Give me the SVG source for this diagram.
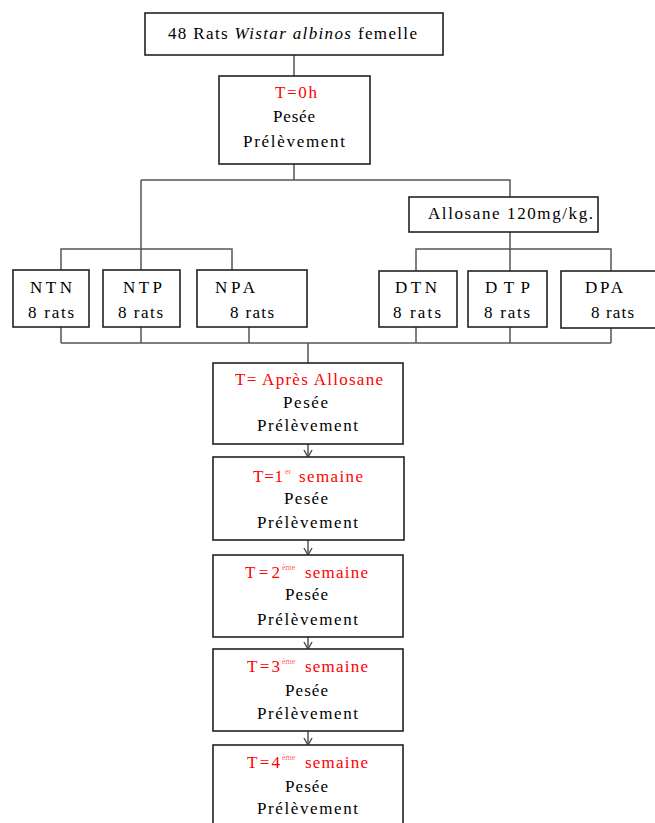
<svg xmlns="http://www.w3.org/2000/svg" width="655" height="823" viewBox="0 0 655 823">
<style>
.box{fill:#fff;stroke:#222;stroke-width:1.6}
.con{fill:none;stroke:#555;stroke-width:1.5}
text{font-family:"Liberation Serif","Times New Roman",serif;font-size:17px;fill:#000;text-anchor:start}
.r{fill:#f00}
.sup{font-size:8px;fill:#f66}
</style>
<defs>
<marker id="v" viewBox="0 0 10 10" refX="9" refY="5" markerWidth="10" markerHeight="10" markerUnits="userSpaceOnUse" orient="auto">
<path d="M2,1 L9,5 L2,9" fill="none" stroke="#555" stroke-width="1.5"/>
</marker>
</defs>
<rect width="655" height="823" fill="#fff"/>
<g id="connectors">
<path class="con" d="M294,55 V76"/>
<path class="con" d="M294,164 V180 M141,180 H510 V197"/>
<path class="con" d="M141,180 V270 M61,270 V249 H232 V270"/>
<path class="con" d="M510,232 V271 M416,271 V249 H611 V271"/>
<path class="con" d="M61,327 V343 M141,327 V343 M249,327 V343 M416,327 V343 M510,327 V343 M611,328 V343 M61,343 H611"/>
<path class="con" d="M308,343 V363"/>
<path class="con" d="M308,444 V457" marker-end="url(#v)"/>
<path class="con" d="M308,540 V555" marker-end="url(#v)"/>
<path class="con" d="M308,637 V649" marker-end="url(#v)"/>
<path class="con" d="M308,731 V745" marker-end="url(#v)"/>
</g>
<g id="top">
<rect class="box" x="145" y="13" width="298" height="42"/>
<text x="168" y="39" textLength="249" lengthAdjust="spacing">48 Rats <tspan font-style="italic">Wistar albinos</tspan> femelle</text>
</g>
<g id="t0">
<rect class="box" x="219" y="76" width="151" height="88"/>
<text class="r" x="275" y="98" textLength="42" lengthAdjust="spacing">T=0h</text>
<text x="273" y="122" textLength="42" lengthAdjust="spacing">Pesée</text>
<text x="243" y="147" textLength="102" lengthAdjust="spacing">Prélèvement</text>
</g>
<g id="allosane">
<rect class="box" x="409" y="197" width="189" height="35"/>
<text x="428" y="219" textLength="165" lengthAdjust="spacing">Allosane 120mg/kg.</text>
</g>
<g id="ntn">
<rect class="box" x="13" y="270" width="76" height="57"/>
<text x="30" y="293" textLength="42" lengthAdjust="spacing">NTN</text>
<text x="28" y="318" textLength="46" lengthAdjust="spacing">8 rats</text>
</g>
<g id="ntp">
<rect class="box" x="103" y="270" width="77" height="57"/>
<text x="123" y="293" textLength="39" lengthAdjust="spacing">NTP</text>
<text x="118" y="318" textLength="45" lengthAdjust="spacing">8 rats</text>
</g>
<g id="npa">
<rect class="box" x="197" y="270" width="110" height="57"/>
<text x="215" y="293" textLength="40" lengthAdjust="spacing">NPA</text>
<text x="230" y="318" textLength="44" lengthAdjust="spacing">8 rats</text>
</g>
<g id="dtn">
<rect class="box" x="379" y="271" width="78" height="56"/>
<text x="395" y="293" textLength="42" lengthAdjust="spacing">DTN</text>
<text x="393" y="318" textLength="48" lengthAdjust="spacing">8 rats</text>
</g>
<g id="dtp">
<rect class="box" x="468" y="271" width="79" height="56"/>
<text x="485" y="293" textLength="45" lengthAdjust="spacing">DTP</text>
<text x="484" y="318" textLength="46" lengthAdjust="spacing">8 rats</text>
</g>
<g id="dpa">
<rect class="box" x="561" y="271" width="100" height="57"/>
<text x="585" y="293" textLength="38" lengthAdjust="spacing">DPA</text>
<text x="591" y="318" textLength="43" lengthAdjust="spacing">8 rats</text>
</g>
<g id="apres">
<rect class="box" x="213" y="363" width="190" height="81"/>
<text class="r" x="235" y="385" textLength="148" lengthAdjust="spacing">T= Après Allosane</text>
<text x="283" y="408" textLength="45" lengthAdjust="spacing">Pesée</text>
<text x="257" y="431" textLength="101" lengthAdjust="spacing">Prélèvement</text>
</g>
<g id="s1">
<rect class="box" x="213" y="457" width="191" height="83"/>
<text class="r" x="253" y="482" textLength="30" lengthAdjust="spacing">T=1</text>
<text class="sup" x="285" y="474">er</text>
<text class="r" x="299" y="482" textLength="64" lengthAdjust="spacing">semaine</text>
<text x="284" y="504" textLength="44" lengthAdjust="spacing">Pesée</text>
<text x="257" y="528" textLength="101" lengthAdjust="spacing">Prélèvement</text>
</g>
<g id="s2">
<rect class="box" x="213" y="555" width="190" height="82"/>
<text class="r" x="245" y="578" textLength="35" lengthAdjust="spacing">T=2</text>
<text class="sup" x="282" y="570">ème</text>
<text class="r" x="305" y="578" textLength="63" lengthAdjust="spacing">semaine</text>
<text x="285" y="600" textLength="43" lengthAdjust="spacing">Pesée</text>
<text x="257" y="625" textLength="101" lengthAdjust="spacing">Prélèvement</text>
</g>
<g id="s3">
<rect class="box" x="213" y="649" width="190" height="82"/>
<text class="r" x="247" y="672" textLength="33" lengthAdjust="spacing">T=3</text>
<text class="sup" x="282" y="664">ème</text>
<text class="r" x="305" y="672" textLength="63" lengthAdjust="spacing">semaine</text>
<text x="285" y="696" textLength="43" lengthAdjust="spacing">Pesée</text>
<text x="257" y="719" textLength="101" lengthAdjust="spacing">Prélèvement</text>
</g>
<g id="s4">
<rect class="box" x="213" y="745" width="190" height="90"/>
<text class="r" x="247" y="768" textLength="33" lengthAdjust="spacing">T=4</text>
<text class="sup" x="282" y="760">ème</text>
<text class="r" x="305" y="768" textLength="63" lengthAdjust="spacing">semaine</text>
<text x="285" y="792" textLength="43" lengthAdjust="spacing">Pesée</text>
<text x="257" y="814" textLength="101" lengthAdjust="spacing">Prélèvement</text>
</g>
</svg>
